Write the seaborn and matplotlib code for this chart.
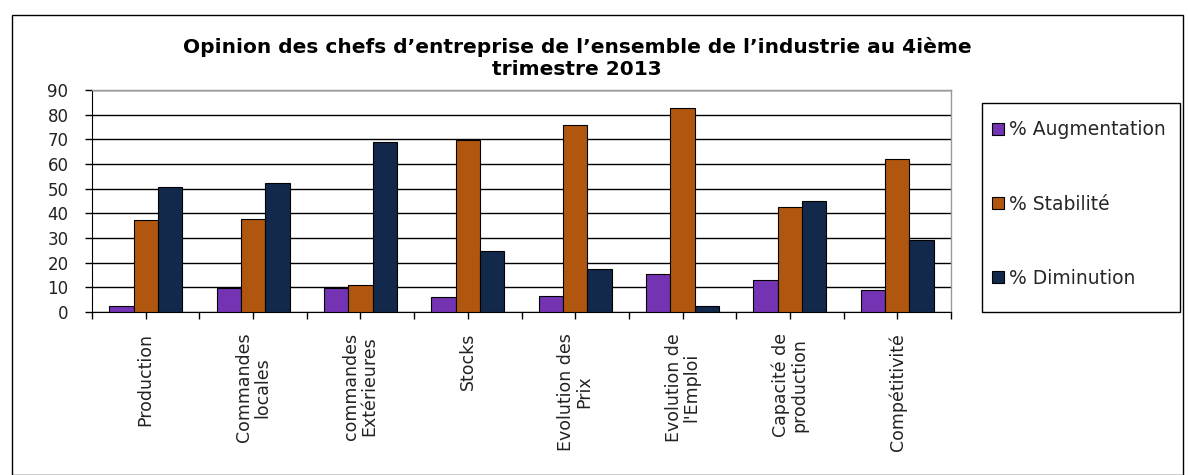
import seaborn as sns
import matplotlib.pyplot as plt
import matplotlib.patches as mpatches
from matplotlib.ticker import MultipleLocator, FixedLocator
import pandas as pd

categories = ['Production', 'Commandes\nlocales', 'commandes\nExtérieures', 'Stocks',
              'Evolution des\nPrix', "Evolution de\nl'Emploi", 'Capacité de\nproduction',
              'Compétitivité']
series = ['% Augmentation', '% Stabilité', '% Diminution']
augmentation = [2.3, 9.7, 9.7, 6.0, 6.5, 15.4, 13.1, 8.8]
stabilite = [37.2, 37.8, 11.0, 69.6, 75.9, 82.8, 42.6, 62.2]
diminution = [50.7, 52.4, 68.9, 24.6, 17.5, 2.3, 44.8, 29.0]
colors = ['#7433b3', '#b0560e', '#13294b']

rows = []
for s, vals in zip(series, [augmentation, stabilite, diminution]):
    for c, v in zip(categories, vals):
        rows.append({'cat': c, 'serie': s, 'val': v})
df = pd.DataFrame(rows)

sns.set_style('white')
plt.rcParams['font.family'] = ['DejaVu Sans']

fig = plt.figure(figsize=(11.89, 4.75), dpi=100)
ax = fig.add_axes([92 / 1189, 1 - 312 / 475, (951 - 92) / 1189, (312 - 90) / 475])

sns.barplot(data=df, x='cat', y='val', hue='serie', order=categories, hue_order=series,
            palette=colors, width=0.68, gap=0, edgecolor='black', linewidth=0.8,
            saturation=1, ax=ax, zorder=3)

ax.set_ylim(0, 90)
ax.set_xlim(-0.5, len(categories) - 0.5)
ax.yaxis.set_major_locator(MultipleLocator(10))
ax.yaxis.grid(True, color='black', linewidth=1.0, zorder=0)
ax.set_axisbelow(True)
ax.set_xlabel('')
ax.set_ylabel('')

for side in ['top', 'right']:
    ax.spines[side].set_color('#999999')
    ax.spines[side].set_linewidth(1.0)
ax.spines['left'].set_color('black')
ax.spines['bottom'].set_color('black')

ax.tick_params(axis='y', direction='out', length=5, width=1, color='black', labelsize=12,
               labelcolor='#222222', left=True, pad=12)
ax.tick_params(axis='x', which='both', direction='out', length=5, width=1, color='black',
               bottom=True, labelsize=12.5, labelcolor='#222222', pad=10)
ax.xaxis.set_minor_locator(FixedLocator([i - 0.5 for i in range(len(categories) + 1)]))
plt.setp(ax.get_xticklabels(), rotation=90, ha='center', va='top', multialignment='center',
         linespacing=1.0)

# legend entries without frame, frame drawn separately
leg = ax.legend(loc='upper left', bbox_to_anchor=(982 / 1189, 1 - 110 / 475),
                bbox_transform=fig.transFigure, frameon=False,
                fontsize=13.5, labelspacing=2.95, borderpad=0.55,
                handlelength=0.6, handleheight=0.6, handletextpad=0.3, borderaxespad=0)
for h in leg.legend_handles:
    h.set_edgecolor('black')
    h.set_linewidth(0.8)
fig.patches.append(mpatches.Rectangle((982 / 1189, 1 - 312 / 475), 198 / 1189, 209 / 475,
                                      transform=fig.transFigure, fill=False,
                                      edgecolor='black', linewidth=1.0))

fig.text(577 / 1189, 1 - 58 / 475,
         'Opinion des chefs d’entreprise de l’ensemble de l’industrie au 4ième\ntrimestre 2013',
         ha='center', va='center', fontsize=14.5, fontweight='bold', linespacing=1.2,
         color='black')

fig.patches.append(mpatches.Rectangle((12 / 1189, 0), (1183 - 12) / 1189, 1 - 15 / 475,
                                      transform=fig.transFigure, fill=False,
                                      edgecolor='black', linewidth=1.0))

fig.savefig('out.png', dpi=100)
